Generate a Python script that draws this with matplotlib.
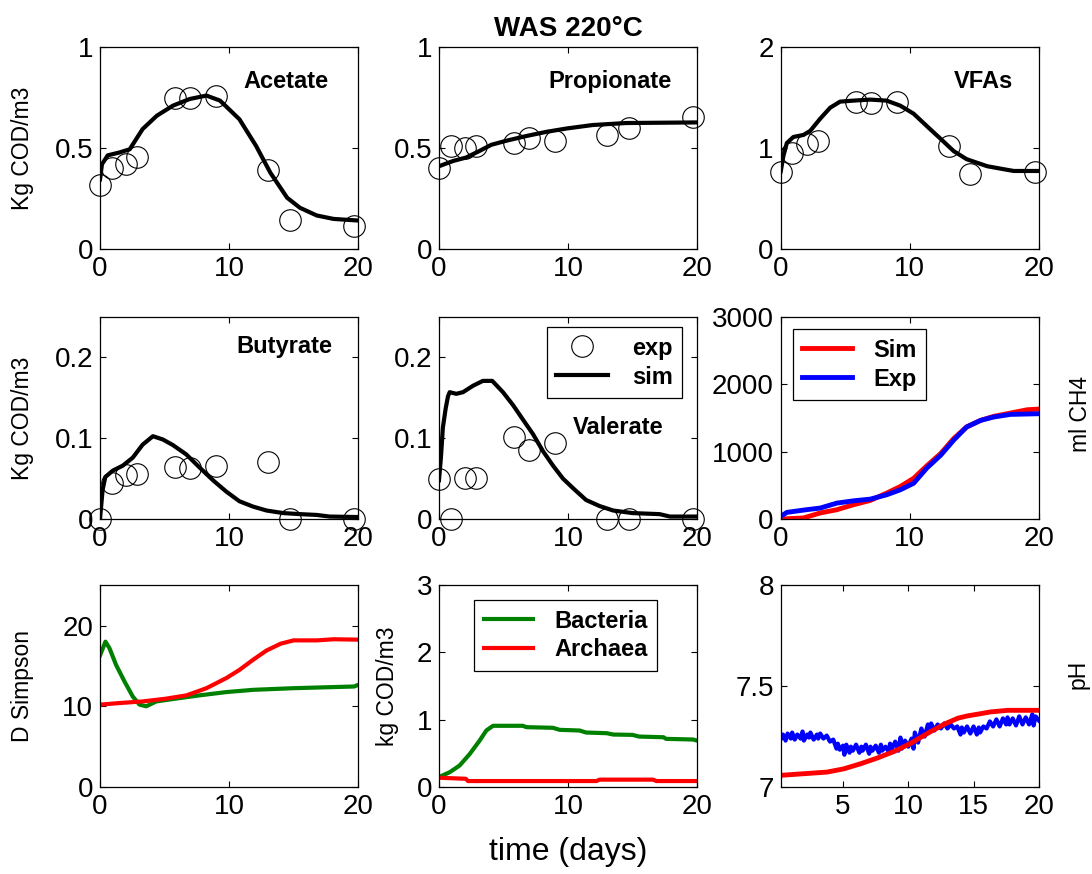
import numpy as np
import matplotlib
matplotlib.use('Agg')
import matplotlib.pyplot as plt

plt.rcParams['font.family'] = ['Liberation Sans', 'DejaVu Sans']

# experimental sampling days (VFA panels)
t_exp = [0, 0.9, 2, 2.9, 5.8, 7, 9, 13, 14.7, 19.7]

acet_exp = [0.317, 0.403, 0.42, 0.458, 0.748, 0.746, 0.756, 0.391, 0.143, 0.113]
prop_exp = [0.403, 0.511, 0.502, 0.511, 0.527, 0.552, 0.536, 0.564, 0.597, 0.652]
vfa_exp = [0.766, 0.955, 1.04, 1.065, 1.453, 1.446, 1.453, 1.02, 0.746, 0.766]
buty_exp = [0.0, 0.044, 0.055, 0.056, 0.064, 0.063, 0.065, 0.070, 0.0, 0.0]
vale_exp = [0.049, 0.0, 0.051, 0.051, 0.101, 0.085, 0.094, 0.0, 0.0, 0.0]

# simulated curves
acet_t = [0, 0.15, 0.6, 1.5, 2.3, 3.3, 4.4, 5.65, 6.95, 8.25, 9.3, 10.8, 12.1, 13.2, 14.5, 15.5, 16.8, 18.1, 20]
acet_sim = [0.345, 0.42, 0.464, 0.478, 0.494, 0.594, 0.66, 0.71, 0.743, 0.76, 0.735, 0.643, 0.51, 0.378,
            0.254, 0.204, 0.166, 0.149, 0.141]

prop_t = [0, 1.1, 2.1, 3.15, 4.05, 5.2, 6.8, 8.3, 9.9, 11.9, 14.5, 20]
prop_sim = [0.41, 0.436, 0.453, 0.486, 0.516, 0.536, 0.56, 0.58, 0.597, 0.614, 0.624, 0.627]

vfa_t = [0, 0.2, 0.47, 0.98, 1.76, 2.28, 3.05, 3.83, 4.6, 5.64, 6.93, 8.2, 9.26, 10.3, 11.3, 12.4, 13.4,
         14.4, 16.0, 17.3, 18.06, 20]
vfa_sim = [0.77, 0.92, 1.05, 1.11, 1.13, 1.17, 1.29, 1.40, 1.46, 1.47, 1.48, 1.47, 1.42, 1.34, 1.22, 1.09,
           0.97, 0.89, 0.82, 0.79, 0.773, 0.773]

buty_t = [0, 0.2, 0.41, 1, 1.76, 2.54, 3.3, 4.1, 4.86, 5.64, 6.68, 7.7, 8.75, 9.78, 10.8, 11.85, 12.9,
          14.2, 15.5, 16.8, 17.8, 20]
buty_sim = [0, 0.036, 0.052, 0.06, 0.066, 0.076, 0.092, 0.1025, 0.0985, 0.0916, 0.080, 0.064, 0.048, 0.034,
            0.022, 0.0154, 0.0105, 0.0073, 0.006, 0.005, 0.003, 0.0024]

vale_t = [0, 0.15, 0.3, 0.52, 0.7, 0.83, 1.34, 1.86, 2.64, 3.4, 4.13, 4.96, 5.74, 6.51, 7.29, 8.06, 8.84,
          9.61, 10.4, 11.4, 12.45, 13.5, 15.0, 17.1, 17.9, 20]
vale_sim = [0.048, 0.076, 0.113, 0.137, 0.152, 0.157, 0.155, 0.157, 0.165, 0.171, 0.171, 0.157, 0.141, 0.123,
            0.105, 0.084, 0.066, 0.050, 0.038, 0.0235, 0.016, 0.0105, 0.0073, 0.006, 0.003, 0.003]

# methane
ch4_t = [0, 1.76, 3.05, 4.35, 5.64, 6.93, 8.2, 9.26, 10.3, 11.3, 12.4, 13.4, 14.4, 15.5, 16.5, 17.8, 19.1, 20]
ch4_sim = [0, 15, 89, 138, 212, 275, 384, 482, 605, 787, 974, 1195, 1367, 1466, 1525, 1574, 1623, 1633]
ch4_et = [0, 0.47, 2.0, 3.05, 4.35, 5.64, 6.93, 8.2, 9.26, 10.3, 11.3, 12.4, 13.4, 14.4, 15.5, 16.5, 17.8, 20]
ch4_exp = [39, 98, 138, 162, 236, 270, 295, 359, 433, 531, 753, 949, 1171, 1367, 1466, 1515, 1554, 1564]

# Simpson diversity
ds_bt = [0, 0.42, 0.73, 1.25, 1.9, 2.54, 3.06, 3.58, 4.36, 5.66, 7.7, 9.8, 11.9, 15, 19.7, 20]
ds_bac = [16.3, 18.0, 17.2, 15.1, 13.06, 11.2, 10.2, 10.0, 10.6, 10.9, 11.35, 11.76, 12.04, 12.24, 12.45, 12.65]
ds_at = [0, 1.5, 3.3, 5.1, 6.7, 8.25, 9.8, 10.8, 11.9, 12.9, 14, 15, 16.8, 18.1, 20]
ds_arc = [10.2, 10.4, 10.6, 10.94, 11.35, 12.24, 13.5, 14.5, 15.8, 16.9, 17.75, 18.16, 18.16, 18.3, 18.25]

# biomass
bm_bt = [0, 0.83, 1.6, 2.38, 3.15, 3.67, 4.19, 6.5, 6.77, 8.84, 9.35, 10.9, 11.4, 13, 13.5, 15, 15.5, 17.4,
         17.6, 19.7, 20]
bm_bac = [0.148, 0.22, 0.32, 0.49, 0.69, 0.84, 0.91, 0.91, 0.89, 0.88, 0.85, 0.84, 0.81, 0.80, 0.78, 0.775,
          0.75, 0.74, 0.716, 0.706, 0.69]
bm_at = [0, 2.07, 2.25, 12.2, 12.45, 16.6, 16.85, 20]
bm_arc = [0.138, 0.123, 0.089, 0.089, 0.11, 0.11, 0.089, 0.089]

# pH
ph_st = [0.23, 3.77, 5.05, 6.33, 7.6, 8.9, 10.2, 11.5, 12.8, 13.8, 14.5, 15.6, 16.3, 17.6, 20]
ph_sim = [7.058, 7.074, 7.09, 7.115, 7.143, 7.176, 7.217, 7.267, 7.313, 7.341, 7.352, 7.364, 7.372, 7.38, 7.38]
ph_et = [0.25, 0.4, 0.6, 0.75, 1.0, 1.1, 1.3, 1.5, 1.75, 1.9, 2.0, 2.25, 2.4, 2.5, 2.75, 3.0, 3.1, 3.25,
         3.5, 3.75, 4.0, 4.25, 4.5, 4.6, 4.75, 5.0, 5.1, 5.25, 5.5, 5.6, 5.75, 6.0, 6.25, 6.4, 6.5, 6.75,
         7.0, 7.1, 7.25, 7.5, 7.75, 7.9, 8.0, 8.25, 8.5, 8.6, 8.75, 9.0, 9.25, 9.4, 9.5, 9.75, 10.0, 10.25,
         10.4, 10.5, 10.75, 11.0, 11.25, 11.5, 11.6, 11.75, 12.0, 12.25, 12.5, 12.75, 13.0, 13.25, 13.5,
         13.75, 14.0, 14.1, 14.25, 14.5, 14.75, 15.0, 15.25, 15.4, 15.5, 15.75, 16.0, 16.25, 16.5, 16.75,
         17.0, 17.25, 17.5, 17.6, 17.75, 18.0, 18.25, 18.5, 18.75, 19.0, 19.25, 19.5, 19.6, 19.75, 20.0]
ph_exp = [7.24, 7.26, 7.23, 7.265, 7.24, 7.27, 7.235, 7.26, 7.24, 7.275, 7.23, 7.26, 7.245, 7.27, 7.235,
          7.26, 7.24, 7.265, 7.24, 7.255, 7.225, 7.235, 7.19, 7.215, 7.185, 7.205, 7.16, 7.21, 7.17, 7.2,
          7.18, 7.21, 7.17, 7.2, 7.18, 7.21, 7.165, 7.2, 7.18, 7.205, 7.17, 7.21, 7.18, 7.2, 7.175, 7.215,
          7.19, 7.225, 7.18, 7.245, 7.19, 7.23, 7.2, 7.24, 7.19, 7.27, 7.22, 7.29, 7.25, 7.31, 7.27, 7.315,
          7.28, 7.31, 7.29, 7.315, 7.29, 7.31, 7.29, 7.3, 7.26, 7.295, 7.27, 7.3, 7.265, 7.3, 7.26, 7.295,
          7.27, 7.3, 7.29, 7.325, 7.3, 7.335, 7.3, 7.34, 7.31, 7.345, 7.31, 7.34, 7.305, 7.35, 7.31, 7.345,
          7.31, 7.36, 7.305, 7.35, 7.33]

GREEN = (0, 0.5, 0)
lefts = [0.0916, 0.402, 0.715]
bottoms = [0.7151, 0.4062, 0.0995]
W, H = 0.2363, 0.231

fig = plt.figure(figsize=(10.92, 8.74), dpi=100)


def make_ax(r, c, xlim, ylim, xt, yt, ytl):
    ax = fig.add_axes([lefts[c], bottoms[r], W, H])
    ax.set_xlim(xlim)
    ax.set_ylim(ylim)
    ax.set_xticks(xt)
    ax.set_xticklabels([str(v) for v in xt])
    ax.set_yticks(yt)
    ax.set_yticklabels(ytl)
    ax.tick_params(direction='in', top=True, right=True, length=4, width=0.8,
                   labelsize=20, pad=5)
    for s in ax.spines.values():
        s.set_linewidth(0.9)
    return ax


def vfa_panel(ax, t, sim, exp, name, tx, ty):
    ax.plot(t_exp, exp, 'o', ms=15.5, mfc='none', mec='k', mew=0.8, label='exp', clip_on=False)
    ax.plot(t, sim, '-', color='k', lw=3, label='sim')
    ax.text(tx, ty, name, fontsize=17, fontweight='bold', va='center')


def ylab(ax, s, x):
    ax.set_ylabel(s, fontsize=16.5, va='center')
    ax.yaxis.set_label_coords(x, 0.5)


def box_legend(ax, loc, anchor, hl, tp):
    leg = ax.legend(loc=loc, bbox_to_anchor=anchor, borderaxespad=0,
                    prop={'weight': 'bold', 'size': 17}, fancybox=False, edgecolor='k',
                    framealpha=1, handlelength=hl, borderpad=0.4, labelspacing=0.25,
                    handletextpad=tp)
    leg.get_frame().set_linewidth(0.9)
    return leg


ax1 = make_ax(0, 0, (0, 20), (0, 1), [0, 10, 20], [0, 0.5, 1], ['0', '0.5', '1'])
vfa_panel(ax1, acet_t, acet_sim, acet_exp, 'Acetate', 11.1, 0.83)
ylab(ax1, 'Kg COD/m3', -0.302)

ax2 = make_ax(0, 1, (0, 20), (0, 1), [0, 10, 20], [0, 0.5, 1], ['0', '0.5', '1'])
vfa_panel(ax2, prop_t, prop_sim, prop_exp, 'Propionate', 8.45, 0.83)
ax2.set_title('WAS 220°C', fontsize=20, fontweight='bold', pad=8)

ax3 = make_ax(0, 2, (0, 20), (0, 2), [0, 10, 20], [0, 1, 2], ['0', '1', '2'])
vfa_panel(ax3, vfa_t, vfa_sim, vfa_exp, 'VFAs', 13.4, 1.66)

ax4 = make_ax(1, 0, (0, 20), (0, 0.25), [0, 10, 20], [0, 0.1, 0.2], ['0', '0.1', '0.2'])
vfa_panel(ax4, buty_t, buty_sim, buty_exp, 'Butyrate', 10.6, 0.213)
ylab(ax4, 'Kg COD/m3', -0.302)

ax5 = make_ax(1, 1, (0, 20), (0, 0.25), [0, 10, 20], [0, 0.1, 0.2], ['0', '0.1', '0.2'])
vfa_panel(ax5, vale_t, vale_sim, vale_exp, 'Valerate', 10.4, 0.113)
box_legend(ax5, 'upper right', (0.942, 0.95), 2.2, 1.0)

ax6 = make_ax(1, 2, (0, 20), (0, 3000), [0, 10, 20], [0, 1000, 2000, 3000],
              ['0', '1000', '2000', '3000'])
ax6.plot(ch4_t, ch4_sim, color='r', lw=3.5, label='Sim')
ax6.plot(ch4_et, ch4_exp, color='b', lw=3.5, label='Exp')
box_legend(ax6, 'upper left', (0.047, 0.94), 2.1, 0.9)
ax6.set_ylabel('ml CH4', fontsize=16.5, va='center')
ax6.yaxis.set_label_coords(1.16, 0.52)

ax7 = make_ax(2, 0, (0, 20), (0, 25), [0, 10, 20], [0, 10, 20], ['0', '10', '20'])
ax7.plot(ds_bt, ds_bac, color=GREEN, lw=3)
ax7.plot(ds_at, ds_arc, color='r', lw=3)
ylab(ax7, 'D Simpson', -0.302)

ax8 = make_ax(2, 1, (0, 20), (0, 3), [0, 10, 20], [0, 1, 2, 3], ['0', '1', '2', '3'])
ax8.plot(bm_bt, bm_bac, color=GREEN, lw=3, label='Bacteria')
ax8.plot(bm_at, bm_arc, color='r', lw=3, label='Archaea')
box_legend(ax8, 'upper left', (0.136, 0.926), 2.1, 0.9)
ylab(ax8, 'kg COD/m3', -0.2)

ax9 = make_ax(2, 2, (0.23, 20), (7, 8), [5, 10, 15, 20], [7, 7.5, 8], ['7', '7.5', '8'])
ax9.plot(ph_et, ph_exp, color='b', lw=3)
ax9.plot(ph_st, ph_sim, color='r', lw=3.5)
ax9.set_ylabel('pH', fontsize=16.5, va='center')
ax9.yaxis.set_label_coords(1.152, 0.56)

fig.text(568 / 1092, 1 - 852 / 874, 'time (days)', fontsize=23, ha='center', va='center')

fig.savefig('out.png', dpi=100)
